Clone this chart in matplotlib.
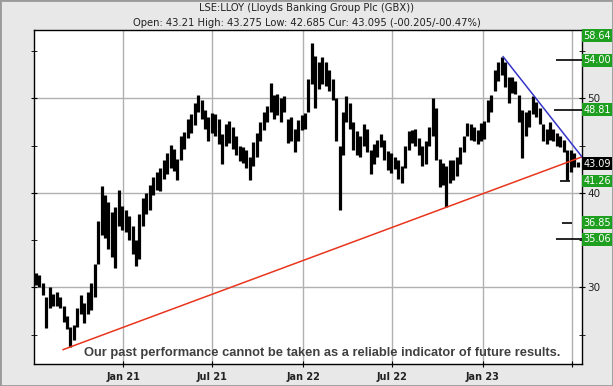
import numpy as np
import pandas as pd
import matplotlib
matplotlib.use('Agg')
import matplotlib.pyplot as plt
import matplotlib.dates as mdates
import matplotlib.transforms as mtransforms
from matplotlib.patches import Rectangle

# weekly price range (pence), week of 2020-07-08 onwards
week_lows = [
    30.2, 30.0, 29.2, 25.7, 27.8, 28.0, 28.0, 27.8, 26.3, 25.6,
    23.7, 24.4, 25.8, 27.2, 26.2, 27.2, 27.6, 29.0, 32.5, 35.5,
    35.2, 34.0, 33.2, 32.0, 36.5, 36.1, 35.8, 35.0, 33.5, 32.2,
    33.0, 36.5, 37.8, 38.2, 39.8, 40.3, 40.2, 41.5, 42.0, 42.6,
    42.3, 41.3, 43.5, 44.6, 45.8, 46.3, 47.2, 48.5, 47.8, 46.8,
    45.5, 46.3, 46.0, 45.2, 43.0, 45.0, 45.3, 44.6, 44.0, 43.4,
    43.2, 42.6, 41.4, 42.8, 43.8, 45.5, 46.6, 47.5, 48.5, 47.8,
    48.2, 47.5, 48.5, 45.3, 45.5, 44.3, 45.5, 46.6, 46.8, 48.5,
    51.5, 49.0, 51.0, 51.5, 51.3, 50.8, 49.8, 45.5, 38.2, 44.0,
    47.5, 46.8, 44.5, 44.0, 43.8, 45.0, 44.3, 42.0, 43.0, 43.8,
    44.8, 43.5, 42.4, 42.1, 42.5, 41.5, 41.0, 42.6, 44.5, 45.3,
    45.0, 44.0, 42.8, 43.0, 45.0, 46.0, 43.5, 40.6, 40.8, 38.5,
    41.0, 41.3, 41.8, 43.0, 44.3, 46.0, 45.6, 45.5, 45.2, 45.5,
    45.7, 47.5, 48.5, 50.8, 51.8, 52.5, 51.2, 49.5, 50.6, 50.5,
    47.5, 43.7, 46.0, 47.0, 48.3, 48.0, 47.3, 45.5, 45.2, 45.6,
    45.5, 45.0, 44.8, 44.3, 41.3, 42.2, 42.7, 42.7,
]
week_highs = [
    31.5, 31.3, 30.5, 29.0, 30.0, 29.3, 29.5, 29.0, 28.0, 27.0,
    25.8, 26.0, 27.8, 29.2, 28.3, 29.5, 30.5, 32.5, 37.0, 40.7,
    39.8, 39.0, 38.0, 38.5, 40.3, 38.6, 38.2, 37.5, 36.5, 35.0,
    37.8, 39.5, 40.0, 40.8, 41.7, 42.2, 42.6, 43.5, 44.2, 45.1,
    44.6, 43.6, 46.0, 46.4, 47.8, 48.3, 49.5, 50.4, 49.8, 48.8,
    48.0, 48.4, 48.3, 47.8, 46.2, 47.3, 47.6, 47.0, 46.0, 45.0,
    44.8, 44.5, 43.8, 45.4, 46.3, 47.5, 48.5, 49.2, 51.6, 50.3,
    50.5, 50.0, 50.2, 47.8, 48.0, 46.8, 47.7, 48.2, 48.4, 52.0,
    55.8, 54.5, 53.8, 54.4, 53.8, 53.0, 52.0, 50.0, 45.0, 48.5,
    50.2, 49.5, 47.5, 46.5, 46.0, 47.3, 46.8, 44.5, 45.2, 45.6,
    46.2, 45.6, 44.4, 44.2, 43.8, 43.5, 42.8, 45.0, 46.5, 46.6,
    46.8, 45.8, 45.0, 45.5, 47.0, 50.0, 49.0, 43.6, 43.2, 42.8,
    43.5, 43.5, 43.8, 44.8, 46.0, 47.4, 47.3, 47.0, 46.6, 47.4,
    47.6, 49.8, 50.3, 53.0, 53.8, 54.4, 53.8, 52.3, 52.3, 51.8,
    50.3, 48.8, 48.5, 48.8, 50.2, 49.6, 49.0, 47.3, 46.8, 47.5,
    46.8, 46.3, 46.0, 45.6, 44.5, 44.5, 44.2, 43.3,
]
first_week = '2020-07-08'

# trend lines
red_dates = ['2020-09-01', '2023-07-21']
red_vals = [23.4, 43.8]
blue_dates = ['2023-02-11', '2023-07-21']
blue_vals = [54.4, 43.8]

# target levels on the right
level_vals = [58.64, 54.00, 48.81, 41.26, 36.85, 35.06]
level_labels = ['58.64', '54.00', '48.81', '41.26', '36.85', '35.06']
cur_val = 43.09
cur_label = '43.09'

tick_dates = ['2021-01-01', '2021-07-01', '2022-01-01',
              '2022-07-01', '2023-01-01', '2023-07-01']
tick_labels = ['Jan 21', 'Jul 21', 'Jan 22', 'Jul 22', 'Jan 23', '']

title1 = 'LSE:LLOY (Lloyds Banking Group Plc (GBX))'
title2 = 'Open: 43.21 High: 43.275 Low: 42.685 Cur: 43.095 (-00.205/-00.47%)'
disclaimer = 'Our past performance cannot be taken as a reliable indicator of future results.'

# level marker spans (axes fraction) - style only
level_spans = [None, (0.953, 1.0), (0.949, 1.0), (0.960, 0.978),
               (0.963, 0.981), (0.953, 1.0)]

W, H = 613, 386
fig = plt.figure(figsize=(W / 100, H / 100), dpi=100, facecolor='#e8e8e8')
fig.patches.append(Rectangle((0, 0), 1, 1, transform=fig.transFigure,
                             fill=False, ec='#9a9a9a', lw=2))

ax = fig.add_axes([34 / W, 22 / H, 548 / W, 334.5 / H])
ax.set_facecolor('white')

dates = pd.date_range(first_week, periods=len(week_lows), freq='7D')
ax.vlines(dates, week_lows, week_highs, color='black', lw=2.3, zorder=3)

ax.plot(pd.to_datetime(red_dates), red_vals, color='#e8361e', lw=1.1, zorder=4)
ax.plot(pd.to_datetime(blue_dates), blue_vals, color='#3535c8', lw=1.1, zorder=4)

ax.set_xlim(pd.Timestamp('2020-07-04'), pd.Timestamp('2023-07-21'))
y_top, y_bot = 57.28, 21.88
ax.set_ylim(y_bot, y_top)

ax.set_xticks(pd.to_datetime(tick_dates))
ax.set_xticklabels(tick_labels, fontsize=7, color='#222222', fontweight='bold')
ax.set_yticks([30, 40, 50])
ax.set_yticks([25, 35, 45, 55], minor=True)
ax.grid(True, which='major', color='#b0b0b0', lw=1)
ax.tick_params(axis='x', direction='inout', length=4, pad=4)
ax.tick_params(axis='y', which='both', left=True, right=True, labelleft=False,
               labelright=True, direction='inout', length=4, pad=2,
               labelsize=7.5, labelcolor='#222222')
for sp in ax.spines.values():
    sp.set_color('black')
    sp.set_linewidth(1)

trans = mtransforms.blended_transform_factory(ax.transAxes, ax.transData)
box_w = 30 / 548
box_h = 12.5 / 9.45
for v, lab, span in zip(level_vals, level_labels, level_spans):
    y = min(v, y_top - box_h / 2)
    if span is not None:
        ax.hlines(v, span[0], span[1], transform=trans, color='black', lw=1.2,
                  zorder=5, clip_on=False)
    ax.add_patch(Rectangle((1.0, y - box_h / 2), box_w, box_h, transform=trans,
                           fc='#1f9f1f', ec='none', clip_on=False, zorder=6))
    ax.text(1.0 + box_w / 2, y, lab, transform=trans, ha='center', va='center',
            color='white', fontsize=7, clip_on=False, zorder=7)

ax.add_patch(Rectangle((1.0, cur_val - box_h / 2), box_w, box_h, transform=trans,
                       fc='black', ec='none', clip_on=False, zorder=6))
ax.text(1.0 + box_w / 2, cur_val, cur_label, transform=trans, ha='center',
        va='center', color='white', fontsize=7, clip_on=False, zorder=7)

fig.text(0.5, 1 - 8 / H, title1, ha='center', va='center', fontsize=7.2,
         color='#222222')
fig.text(0.5, 1 - 22.5 / H, title2, ha='center', va='center', fontsize=7.2,
         color='#222222')

ax.text(0.5265, 0.033, disclaimer, transform=ax.transAxes, ha='center',
        va='center', fontsize=9.3, fontweight='bold', color='#404040',
        family=['Liberation Sans', 'DejaVu Sans'], zorder=8)

fig.savefig('out.png', dpi=100, facecolor=fig.get_facecolor())
